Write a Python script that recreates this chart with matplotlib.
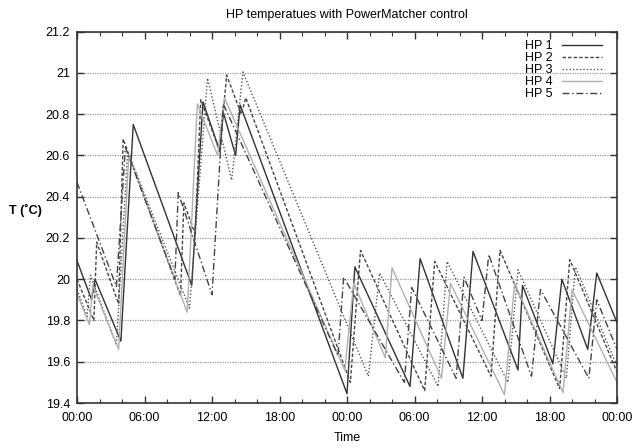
import numpy as np
import matplotlib
matplotlib.use("Agg")
from matplotlib import pyplot as plt
from matplotlib.ticker import MultipleLocator

# hours since start, temperatures in degC
t1 = [0, 1.3, 1.6, 3.9, 5.0, 10.2, 11.2, 12.7, 13.0, 14.1, 14.5, 24.0, 24.7, 29.6, 30.5,
      34.3, 35.2, 39.2, 39.6, 42.3, 43.1, 45.4, 46.2, 48]
v1 = [20.09, 19.90, 20.00, 19.70, 20.75, 19.97, 20.86, 20.62, 20.81, 20.60, 20.845, 19.445, 20.06, 19.48, 20.10,
      19.52, 20.135, 19.56, 19.97, 19.59, 20.00, 19.66, 20.03, 19.79]

t2 = [0, 1.5, 1.75, 3.7, 4.1, 9.2, 9.5, 10.5, 11.0, 12.7, 13.3, 14.6, 15.0, 24.3, 25.2,
      30.9, 31.8, 36.8, 37.6, 42.9, 43.8, 48]
v2 = [20.00, 19.80, 20.18, 19.88, 20.68, 19.92, 20.37, 20.22, 20.87, 20.62, 20.99, 20.80, 20.88, 19.50, 20.14,
      19.46, 20.086, 19.53, 20.14, 19.47, 20.095, 19.55]

t3 = [0, 0.9, 1.2, 3.5, 4.5, 10.0, 11.6, 13.75, 14.75, 25.9, 26.9, 32.1, 32.9, 38.3, 39.2,
      43.5, 44.3, 48]
v3 = [19.95, 19.82, 20.02, 19.68, 20.62, 19.86, 20.975, 20.48, 21.005, 19.53, 20.03, 19.48, 20.086, 19.50, 20.046,
      19.52, 20.06, 19.58]

t4 = [0, 1.1, 1.4, 3.7, 4.6, 9.8, 10.7, 12.5, 13.1, 23.8, 24.6, 27.4, 28.0, 32.4, 33.2,
      38.0, 38.9, 43.2, 44.0, 48]
v4 = [19.93, 19.78, 19.97, 19.66, 20.60, 19.84, 20.85, 20.60, 20.88, 19.56, 19.98, 19.62, 20.055, 19.52, 19.98,
      19.44, 19.98, 19.45, 19.95, 19.50]

t5 = [0, 3.5, 4.3, 8.7, 9.0, 12.0, 13.0, 23.2, 23.7, 29.1, 29.75, 33.7, 34.4, 36.0, 36.6,
      40.4, 41.2, 45.5, 46.2, 48]
v5 = [20.47, 19.965, 20.64, 20.00, 20.42, 19.925, 20.85, 19.63, 20.01, 19.50, 19.96, 19.52, 20.01, 19.80, 20.12,
      19.53, 19.95, 19.52, 19.90, 19.66]

xticks = [0, 6, 12, 18, 24, 30, 36, 42, 48]
xlabels = ["00:00", "06:00", "12:00", "18:00", "00:00", "06:00", "12:00", "18:00", "00:00"]
yticks = [19.4, 19.6, 19.8, 20.0, 20.2, 20.4, 20.6, 20.8, 21.0, 21.2]
ylabels = ["19.4", "19.6", "19.8", "20", "20.2", "20.4", "20.6", "20.8", "21", "21.2"]

plt.rcParams['font.family'] = ['Liberation Sans', 'DejaVu Sans']

fig = plt.figure(figsize=(6.34, 4.48), dpi=100)
ax = fig.add_axes([77/634, 1 - 403/448, 540/634, (403 - 31.7)/448])

ax.plot(t1, v1, color='#333333', lw=1.0, ls='-', label='HP 1')
ax.plot(t2, v2, color='#444444', lw=1.0, ls=(0, (2.5, 1.5)), label='HP 2')
ax.plot(t3, v3, color='#555555', lw=1.0, ls=(0, (1, 1.5)), label='HP 3')
ax.plot(t4, v4, color='#b0b0b0', lw=1.0, ls='-', label='HP 4')
ax.plot(t5, v5, color='#444444', lw=1.0, ls=(0, (5, 2, 1, 2)), label='HP 5')

ax.set_xlim(0, 48)
ax.set_ylim(19.4, 21.2)
ax.set_xticks(xticks)
ax.set_xticklabels(xlabels)
ax.set_yticks(yticks)
ax.set_yticklabels(ylabels)
ax.xaxis.set_minor_locator(MultipleLocator(2))

ax.tick_params(which='both', direction='in', top=True, right=True, labelsize=9, color='#333333')
ax.tick_params(which='major', length=5, width=1)
ax.tick_params(which='minor', length=3, width=0.8)
ax.tick_params(axis='x', pad=6.5)
ax.tick_params(axis='y', pad=5)

ax.grid(axis='y', which='major', ls=(0, (1, 1)), color='#999999', lw=0.9)
for s in ax.spines.values():
    s.set_color('#333333')
    s.set_linewidth(1.2)

ax.set_title('HP temperatues with PowerMatcher control', fontsize=9, pad=10)
ax.set_xlabel('Time', fontsize=9, labelpad=6)
ax.set_ylabel('T (˚C)', fontsize=9, rotation=0, fontweight='bold')
ax.yaxis.set_label_coords(-0.096, 0.5)

ax.legend(loc='upper right', bbox_to_anchor=(0.989, 1.0), frameon=False, markerfirst=False,
          fontsize=9, labelspacing=0.0, handlelength=3.2, handletextpad=0.8, borderaxespad=0.3)

fig.savefig('out.png', dpi=100)
